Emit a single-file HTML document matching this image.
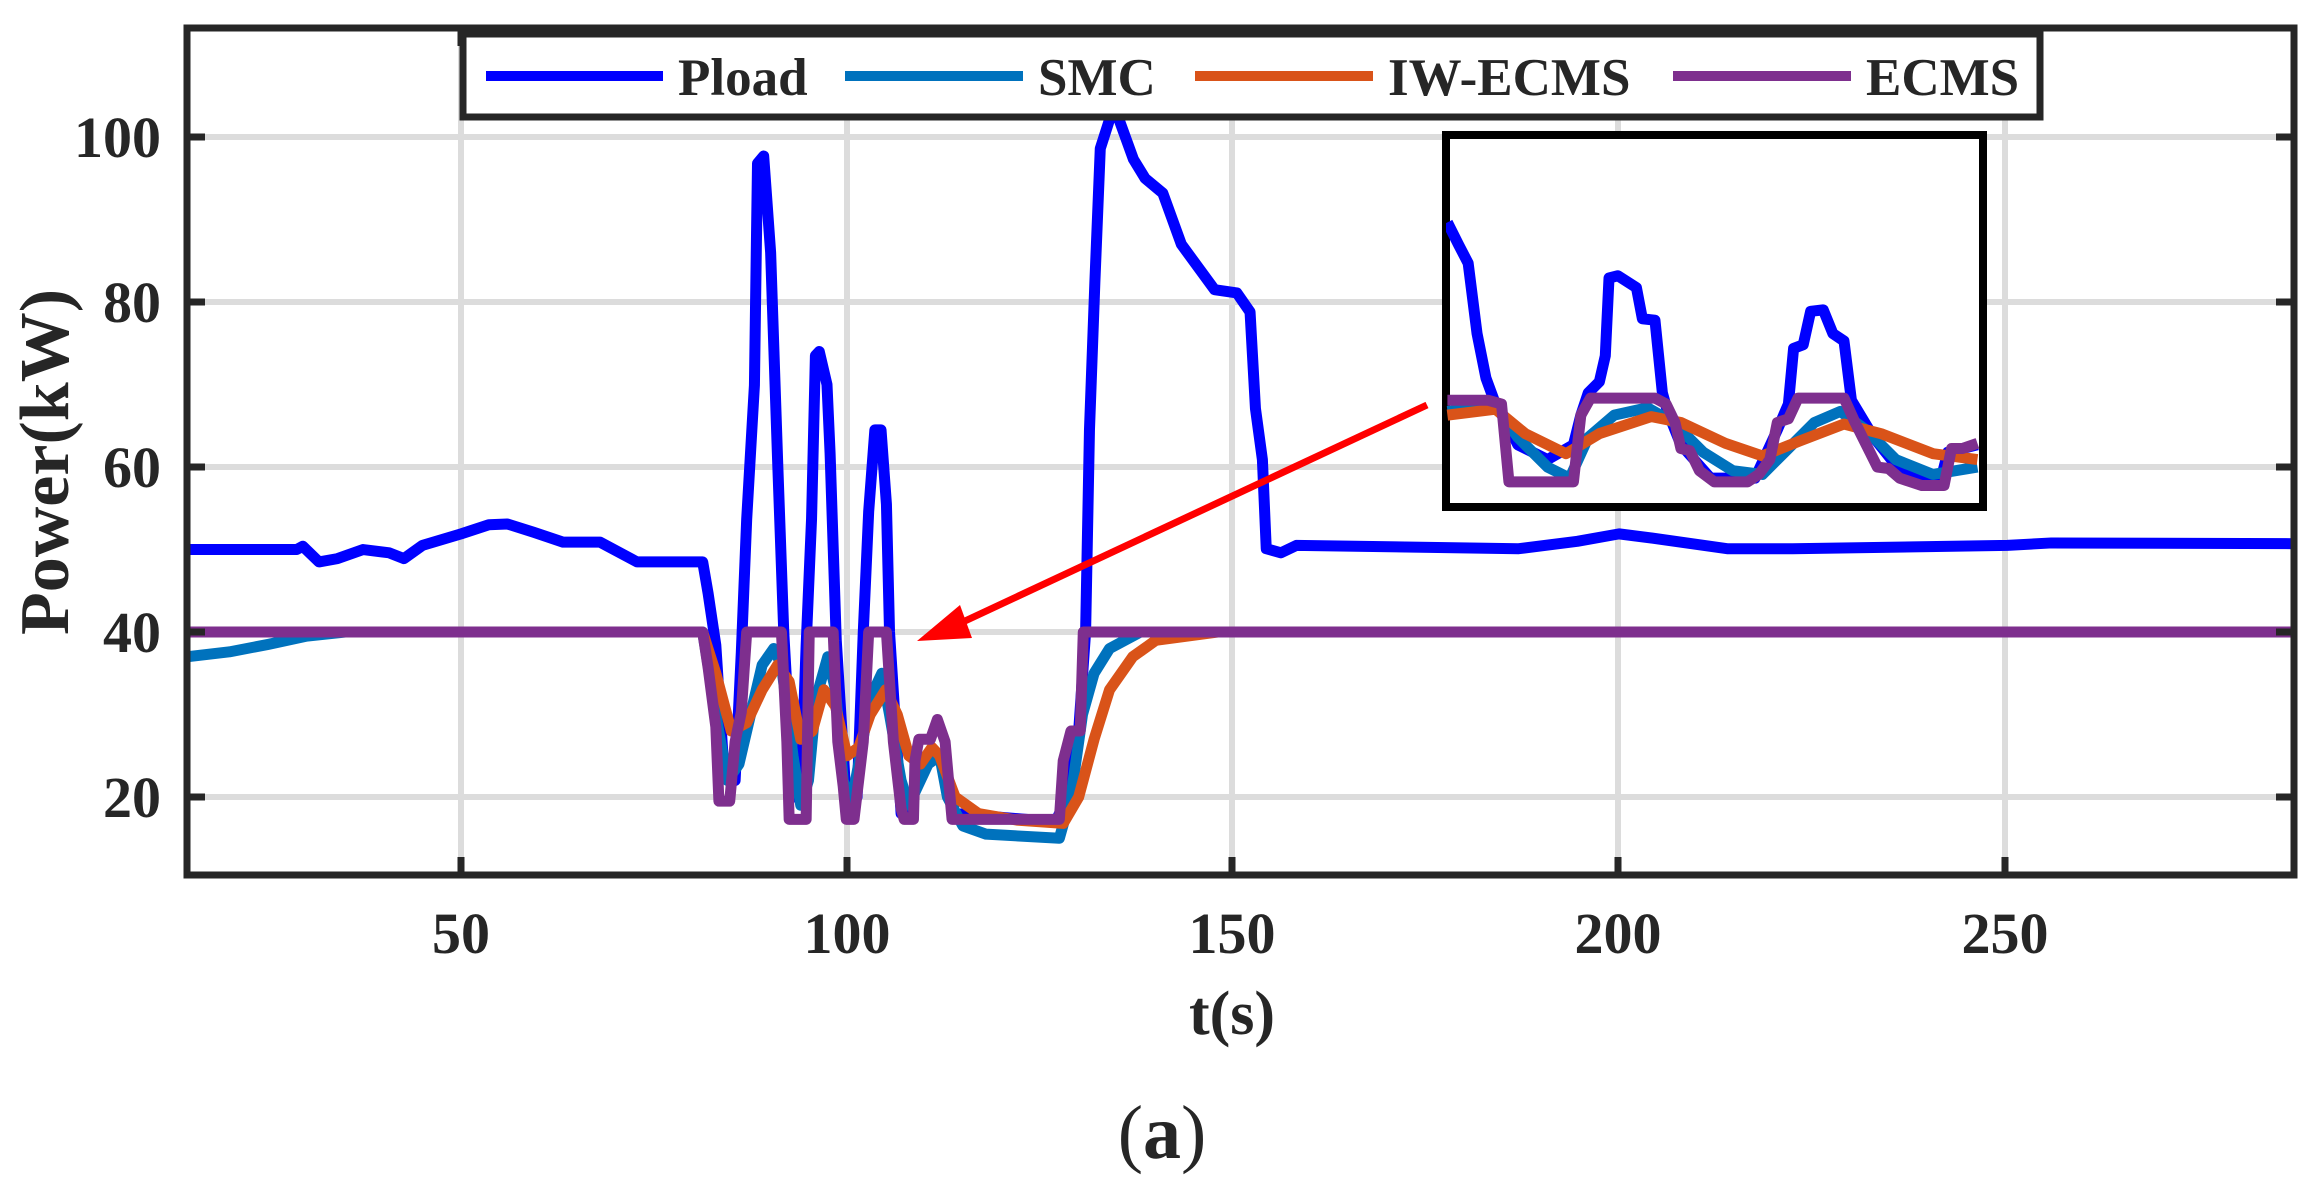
<!DOCTYPE html>
<html><head><meta charset="utf-8"><style>
html,body{margin:0;padding:0;background:#fff}
svg text{font-family:"Liberation Serif",serif;font-weight:bold;fill:#262626}
</style></head><body>
<svg width="2324" height="1183" viewBox="0 0 2324 1183" xmlns="http://www.w3.org/2000/svg">
<defs>
<clipPath id="ax"><rect x="187" y="28" width="2107" height="847"/></clipPath>
<clipPath id="ins"><rect x="1446" y="135" width="537" height="372"/></clipPath>
</defs>
<g stroke="#dcdcdc" stroke-width="6">
<line x1="461" y1="28" x2="461" y2="875"/><line x1="847" y1="28" x2="847" y2="875"/>
<line x1="1232" y1="28" x2="1232" y2="875"/><line x1="1618" y1="28" x2="1618" y2="875"/>
<line x1="2005" y1="28" x2="2005" y2="875"/>
<line x1="187" y1="137" x2="2294" y2="137"/><line x1="187" y1="302" x2="2294" y2="302"/>
<line x1="187" y1="467" x2="2294" y2="467"/><line x1="187" y1="632" x2="2294" y2="632"/>
<line x1="187" y1="797" x2="2294" y2="797"/>
</g>
<g clip-path="url(#ax)" fill="none" stroke-linejoin="round">
<g transform="translate(75.06,962.04) scale(7.72,-8.25)">
<polyline vector-effect="non-scaling-stroke" stroke="#0000ff" stroke-width="11" points="14.5,50 28.7,50 29.5,50.4 31.6,48.5 34,48.9 37.3,50 40.7,49.6 42.6,48.9 45,50.5 50,51.9 53.6,53 56,53.1 59.4,52.1 63.2,50.9 68,50.9 72.8,48.5 81.3,48.5 82,44.7 83,38.4 84,24 85.5,22 86.3,37.5 87,53.7 88,69.9 88.4,96.8 89.2,97.7 90.1,86 91,60.9 91.8,40 93,20 94,20 94.7,38.4 95.4,53.7 95.9,73.5 96.4,74 97.4,70 97.8,61.7 98.6,39 100,18 101.3,20 102.1,40 102.8,54.6 103.6,64.5 104.4,64.5 105.1,55.5 105.5,40 107,18 108.5,20 110,24 112,25 114,18 127,17 128.5,20 130,28 130.9,40 131.4,64.5 132.1,82.4 132.8,98.6 134.3,103 135.2,102.2 137.1,97.3 138.6,95 140.9,93.2 143.3,87 147.6,81.5 150.5,81.1 152.2,78.8 152.9,67.1 153.8,60.9 154.3,50.1 156.2,49.6 158.2,50.5 187,50.1 194.6,51 200,51.9 204.2,51.4 214,50.1 222.5,50.1 250.3,50.5 256,50.8 290,50.7"/>
<polyline vector-effect="non-scaling-stroke" stroke="#0072bd" stroke-width="11" points="14.5,37 20,37.6 25,38.5 30,39.5 35,40 81.3,40 83,30 84.5,22 86,24 87.5,30 89,36 90.5,38 91.5,36 93,25 94,19 95,22 96,32 97.5,37 98.5,33 99.5,22 100.5,19 101.5,24 103,32 104.5,35 105.5,30 107,22 108,19 109,21 110.5,24 112,25 113,20 115,16.5 118,15.5 127.5,15 129,20 130.5,30 132,35 134,38 138,40 290,40"/>
<polyline vector-effect="non-scaling-stroke" stroke="#d95319" stroke-width="11" points="81.3,40 83,35 85,28 87,29 89,33 91,36 92.5,34 94,27 95.5,28 97,33 98.5,31 100,25 101.5,26 103,30 105,33 106.5,30 108,25 109.5,24 111,26 112,25 114,20 117,18 122,17.2 128,16.8 130,20 132,27 134,33 137,37 140,39 148,40 290,40"/>
<polyline vector-effect="non-scaling-stroke" stroke="#7e2f8e" stroke-width="11" points="14.5,40 81.3,40 82,35.7 83,28.5 83.4,19.5 84.8,19.5 85.5,26.7 86.3,30.3 87,40 91.5,40 92.2,26.7 92.5,17.3 94.7,17.3 95.1,40 98.2,40 98.8,26.7 99.5,21.3 99.9,17.3 100.9,17.3 102.1,26.7 102.8,40 105.1,40 106,26.7 107,18.6 107.4,17.3 108.6,17.3 108.8,24.4 109.3,27 110.8,27 111.7,29.4 112.7,26.7 113.6,17.3 127.5,17.3 128,24.4 129,28 130.2,28 130.6,40 290,40"/>
</g>
</g>
<line x1="1427" y1="405" x2="950" y2="628" stroke="#ff0000" stroke-width="7"/>
<polygon points="917,641 960,605 972,638" fill="#ff0000"/>
<rect x="1446" y="135" width="537" height="372" fill="#fff" stroke="#000" stroke-width="8"/>
<g clip-path="url(#ins)" fill="none" stroke-linejoin="round">
<g transform="translate(1162,0) scale(0.7413)">
<polyline vector-effect="non-scaling-stroke" stroke="#0000ff" stroke-width="11" points="385,300 400,330 413,355 425,450 437,510 448,540 460,560 480,600 520,620 555,600 565,560 575,530 590,515 598,480 603,375 615,372 640,388 648,430 665,432 675,530 682,555 700,600 740,645 800,645 830,580 845,545 852,470 865,465 875,420 892,418 905,450 920,460 930,540 960,590 1000,640 1050,650 1060,610 1100,600"/>
<polyline vector-effect="non-scaling-stroke" stroke="#0072bd" stroke-width="11" points="385,555 450,548 480,590 520,630 550,645 575,590 610,560 655,550 690,570 730,610 770,635 810,640 840,610 880,570 915,555 950,580 990,620 1040,640 1100,630"/>
<polyline vector-effect="non-scaling-stroke" stroke="#d95319" stroke-width="11" points="385,560 450,552 490,585 545,612 590,585 660,562 700,570 760,598 810,615 860,595 920,572 970,585 1040,612 1100,620"/>
<polyline vector-effect="non-scaling-stroke" stroke="#7e2f8e" stroke-width="11" points="385,540 440,540 458,545 468,650 555,650 565,560 578,537 665,537 680,545 692,570 700,605 712,608 725,635 745,650 790,650 805,640 820,620 830,570 845,565 858,537 920,537 935,570 955,610 965,630 980,632 995,645 1025,655 1055,655 1065,605 1080,605 1100,598"/>
</g>
</g>
<rect x="187" y="28" width="2107" height="847" fill="none" stroke="#262626" stroke-width="7"/>
<g stroke="#262626" stroke-width="7">
<line x1="461" y1="875" x2="461" y2="857"/><line x1="847" y1="875" x2="847" y2="857"/><line x1="1232" y1="875" x2="1232" y2="857"/><line x1="1618" y1="875" x2="1618" y2="857"/><line x1="2005" y1="875" x2="2005" y2="857"/>
<line x1="461" y1="28" x2="461" y2="46"/><line x1="847" y1="28" x2="847" y2="46"/><line x1="1232" y1="28" x2="1232" y2="46"/><line x1="1618" y1="28" x2="1618" y2="46"/><line x1="2005" y1="28" x2="2005" y2="46"/>
<line x1="187" y1="137" x2="205" y2="137"/><line x1="187" y1="302" x2="205" y2="302"/><line x1="187" y1="467" x2="205" y2="467"/><line x1="187" y1="632" x2="205" y2="632"/><line x1="187" y1="797" x2="205" y2="797"/>
<line x1="2294" y1="137" x2="2276" y2="137"/><line x1="2294" y1="302" x2="2276" y2="302"/><line x1="2294" y1="467" x2="2276" y2="467"/><line x1="2294" y1="632" x2="2276" y2="632"/><line x1="2294" y1="797" x2="2276" y2="797"/>
</g>
<rect x="463" y="34" width="1577" height="83" fill="#fff" stroke="#262626" stroke-width="7"/>
<g stroke-width="10">
<line x1="486" y1="76" x2="663" y2="76" stroke="#0000ff"/>
<line x1="845" y1="76" x2="1023" y2="76" stroke="#0072bd"/>
<line x1="1195" y1="76" x2="1373" y2="76" stroke="#d95319"/>
<line x1="1673" y1="76" x2="1851" y2="76" stroke="#7e2f8e"/>
</g>
<g font-size="53">
<text x="678" y="95">Pload</text>
<text x="1038" y="95">SMC</text>
<text x="1388" y="95">IW-ECMS</text>
<text x="1866" y="95">ECMS</text>
</g>
<g font-size="58" text-anchor="end">
<text x="161" y="157">100</text><text x="161" y="322">80</text><text x="161" y="487">60</text><text x="161" y="652">40</text><text x="161" y="817">20</text>
</g>
<g font-size="58" text-anchor="middle">
<text x="461" y="953">50</text><text x="847" y="953">100</text><text x="1232" y="953">150</text><text x="1618" y="953">200</text><text x="2005" y="953">250</text>
<text x="1232" y="1034" font-size="62">t(s)</text>
</g>
<text transform="translate(68,462) rotate(-90)" font-size="70" text-anchor="middle">Power(kW)</text>
<text x="1162" y="1158" font-size="76" text-anchor="middle" style="font-weight:normal">(<tspan style="font-weight:bold">a</tspan>)</text>
</svg>
</body></html>
